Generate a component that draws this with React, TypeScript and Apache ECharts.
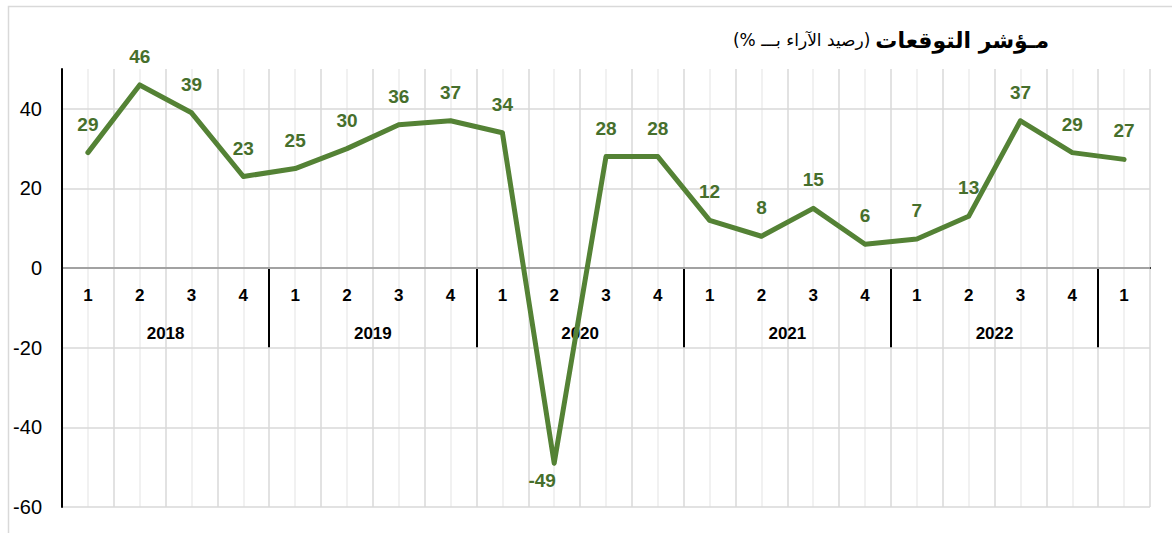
import React, { useEffect, useRef } from "react";
import * as echarts from "echarts";

// ---- data ----
const quarterLabels: string[] = [
  "1", "2", "3", "4",
  "1", "2", "3", "4",
  "1", "2", "3", "4",
  "1", "2", "3", "4",
  "1", "2", "3", "4",
  "1",
];
const yearLabels: string[] = ["2018", "2019", "2020", "2021", "2022"];
const expectationIndex: number[] = [
  29, 46, 39, 23,
  25, 30, 36, 37,
  34, -49, 28, 28,
  12, 8, 15, 6,
  7.3, 13, 37, 29,
  27.3,
];
const yMin = -60;
const yMax = 50;
const yStep = 20;
const titleMain = "مـؤشر التوقعات";
const titleSub = "(رصيد الآراء بـــ %)";

export default function App() {
  const ref = useRef<HTMLDivElement>(null);

  useEffect(() => {
    if (!ref.current) return;
    const chart = echarts.init(ref.current, undefined, { renderer: "svg" });

    const gridTop = 69;
    const gridBottom = 26;
    const plotH = 533 - gridTop - gridBottom;
    // distance from bottom edge of plot up to the zero line
    const zeroOffset = -(plotH * (0 - yMin)) / (yMax - yMin);

    const nQ = quarterLabels.length;
    // half-category axis: 2*nQ+1 points spanning the plot (boundaryGap false)
    const halfCats: string[] = [];
    for (let k = 0; k <= 2 * nQ; k++) {
      let lab = "";
      if (k % 8 === 4) {
        const yi = (k - 4) / 8;
        if (yi < yearLabels.length) lab = yearLabels[yi];
      }
      halfCats.push(lab);
    }

    const green = "#548235";
    const labelGreen = "#466f2c";
    const font = "'Liberation Sans', Arial, sans-serif";

    const seriesData = expectationIndex.map((v) =>
      v < 0
        ? {
            value: v,
            label: { position: "bottom", distance: 6, offset: [-12, 0] },
          }
        : v
    );

    chart.setOption({
      animation: false,
      backgroundColor: "#ffffff",
      title: {
        text: `{s|\u200F${titleSub}\u200F} {b|${titleMain}}`,
        right: 118,
        top: 24,
        textStyle: {
          rich: {
            s: {
              fontSize: 17,
              fontFamily: "'DejaVu Sans', Arial, sans-serif",
              color: "#000",
              fontWeight: "normal",
            },
            b: {
              fontSize: 22,
              fontFamily: "'DejaVu Sans', Arial, sans-serif",
              color: "#000",
              fontWeight: "bold",
            },
          },
        },
      },
      graphic: [
        {
          type: "rect",
          shape: { x: 8.5, y: 6.5, width: 1300, height: 700 },
          style: { fill: "none", stroke: "#d9d9d9", lineWidth: 1.5 },
          silent: true,
          z: -10,
        },
      ],
      grid: {
        left: 62,
        right: 22,
        top: gridTop,
        bottom: gridBottom,
        containLabel: false,
        outerBoundsMode: "none",
      },
      xAxis: [
        {
          // quarters: axis line at zero, labels, gridlines at quarter boundaries
          type: "category",
          data: quarterLabels,
          boundaryGap: true,
          position: "bottom",
          offset: zeroOffset,
          axisLine: { onZero: false, lineStyle: { color: "#000", width: 2 } },
          axisTick: { show: false },
          axisLabel: {
            interval: 0,
            margin: 19,
            fontSize: 17,
            fontWeight: "bold",
            color: "#000",
            fontFamily: font,
          },
          splitLine: {
            show: true,
            interval: 0,
            lineStyle: { color: "#d9d9d9", width: 1.5 },
          },
          z: 1,
        },
        {
          // years: labels and separators
          type: "category",
          data: halfCats,
          boundaryGap: false,
          position: "bottom",
          offset: zeroOffset,
          axisLine: { show: false, onZero: false },
          axisTick: {
            show: true,
            interval: (i: number) => i > 0 && i % 8 === 0,
            length: 80,
            lineStyle: { color: "#000", width: 2 },
          },
          axisLabel: {
            interval: 0,
            margin: 57,
            fontSize: 17,
            fontWeight: "bold",
            color: "#000",
            fontFamily: font,
          },
          splitLine: { show: false },
          z: 2,
        },
        {
          // light gridlines through the middle of each quarter
          type: "category",
          data: halfCats,
          boundaryGap: false,
          position: "bottom",
          axisLine: { show: false, onZero: false },
          axisTick: { show: false },
          axisLabel: { show: false },
          splitLine: {
            show: true,
            interval: (i: number) => i % 2 === 1,
            lineStyle: { color: "#ededed", width: 1.5 },
          },
          z: 0,
        },
      ],
      yAxis: {
        type: "value",
        min: yMin,
        max: yMax,
        interval: yStep,
        axisLine: { show: true, onZero: false, lineStyle: { color: "#000", width: 2 } },
        axisTick: { show: false },
        axisLabel: {
          margin: 20,
          fontSize: 20,
          color: "#000",
          fontFamily: font,
          showMaxLabel: false,
        },
        splitLine: {
          show: true,
          showMaxLine: false,
          lineStyle: { color: "#d9d9d9", width: 1.5 },
        },
        z: 3,
      },
      series: [
        {
          type: "line",
          xAxisIndex: 0,
          data: seriesData,
          symbol: "circle",
          symbolSize: 4,
          itemStyle: { color: green },
          lineStyle: { color: green, width: 5, join: "round", cap: "round" },
          label: {
            show: true,
            position: "top",
            distance: 17,
            fontSize: 19,
            fontWeight: "bold",
            color: labelGreen,
            fontFamily: font,
            formatter: (p: any) => String(Math.round(p.value)),
          },
          z: 4,
        },
      ],
    });

    return () => {
      chart.dispose();
    };
  }, []);

  return (
    <div
      ref={ref}
      style={{
        position: "absolute",
        left: 0,
        top: 0,
        width: 1172,
        height: 533,
        background: "#fff",
      }}
    />
  );
}
